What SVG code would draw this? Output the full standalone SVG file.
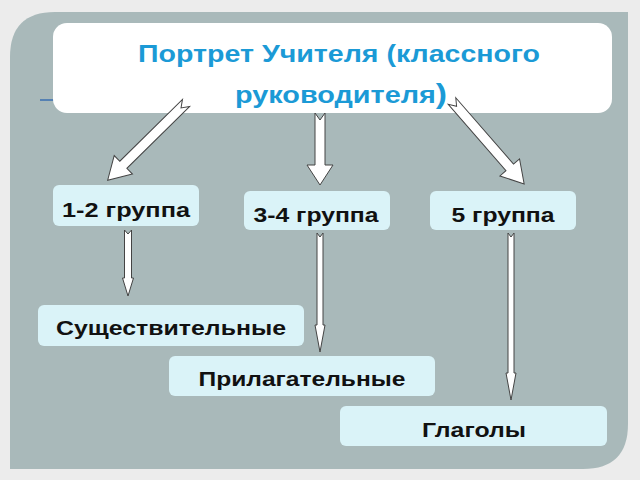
<svg xmlns="http://www.w3.org/2000/svg" width="640" height="480" viewBox="0 0 640 480">
<style>
.box{fill:#daf3f8}
.lbl{font-family:"Liberation Sans",Arial,sans-serif;font-weight:bold;font-size:21px;fill:#111;text-anchor:middle}
.arr{fill:#fff;stroke:#444;stroke-width:1}
.ttl{font-family:"Liberation Sans",Arial,sans-serif;font-weight:bold;font-size:24px;fill:#1b9ad6;text-anchor:middle}
</style>
<rect width="640" height="480" fill="#ececec"/>
<path d="M55,12 H628 V424 Q628,469 583,469 H10 V57 Q10,12 55,12 Z" fill="#a9b9ba"/>
<line x1="40" y1="100" x2="54" y2="100" stroke="#3a6fb0" stroke-width="1.5"/>
<g id="title">
<rect x="53" y="23" width="559" height="90" rx="14" fill="#fff"/>
<text class="ttl" x="339" y="62" textLength="402" lengthAdjust="spacingAndGlyphs">Портрет Учителя (классного</text>
<text class="ttl" x="341" y="103" textLength="212" lengthAdjust="spacingAndGlyphs">руководителя<tspan font-size="28">)</tspan></text>
</g>
<g id="connectors">
<path class="arr" transform="translate(186,103) rotate(135.4)" d="M0,-5 L88,-5 L88,-13 L110,0 L88,13 L88,5 L0,5 L7,0 Z"/>
<path class="arr" transform="translate(320,113) rotate(90)" d="M0,-5 L52,-5 L52,-13 L72,0 L52,13 L52,5 L0,5 L7,0 Z"/>
<path class="arr" transform="translate(452,101) rotate(49)" d="M0,-5 L88,-5 L88,-13 L110,0 L88,13 L88,5 L0,5 L7,0 Z"/>
<path class="arr" transform="translate(128,230) rotate(90)" d="M0,-3.5 L48,-3.5 L48,-5.5 L66,0 L48,5.5 L48,3.5 L0,3.5 L4,0 Z"/>
<path class="arr" transform="translate(320,233) rotate(90)" d="M0,-3 L92,-3 L92,-5 L119,0 L92,5 L92,3 L0,3 L4,0 Z"/>
<path class="arr" transform="translate(511,233) rotate(90)" d="M0,-3 L140,-3 L140,-5 L167,0 L140,5 L140,3 L0,3 L4,0 Z"/>
</g>
<g id="g12"><rect class="box" x="53" y="185" width="146" height="41" rx="6"/><text class="lbl" x="126" y="217" textLength="128" lengthAdjust="spacingAndGlyphs">1-2 группа</text></g>
<g id="g34"><rect class="box" x="244" y="191" width="146" height="39" rx="6"/><text class="lbl" x="316" y="222" textLength="125" lengthAdjust="spacingAndGlyphs">3-4 группа</text></g>
<g id="g5"><rect class="box" x="430" y="191" width="146" height="39" rx="6"/><text class="lbl" x="503" y="222" textLength="103" lengthAdjust="spacingAndGlyphs">5 группа</text></g>
<g id="noun"><rect class="box" x="38" y="305" width="266" height="41" rx="6"/><text class="lbl" x="171" y="335" textLength="230" lengthAdjust="spacingAndGlyphs">Существительные</text></g>
<g id="adj"><rect class="box" x="169" y="356" width="266" height="40" rx="6"/><text class="lbl" x="302" y="386" textLength="207" lengthAdjust="spacingAndGlyphs">Прилагательные</text></g>
<g id="verb"><rect class="box" x="340" y="406" width="267" height="40" rx="6"/><text class="lbl" x="474" y="437" textLength="104" lengthAdjust="spacingAndGlyphs">Глаголы</text></g>
</svg>
